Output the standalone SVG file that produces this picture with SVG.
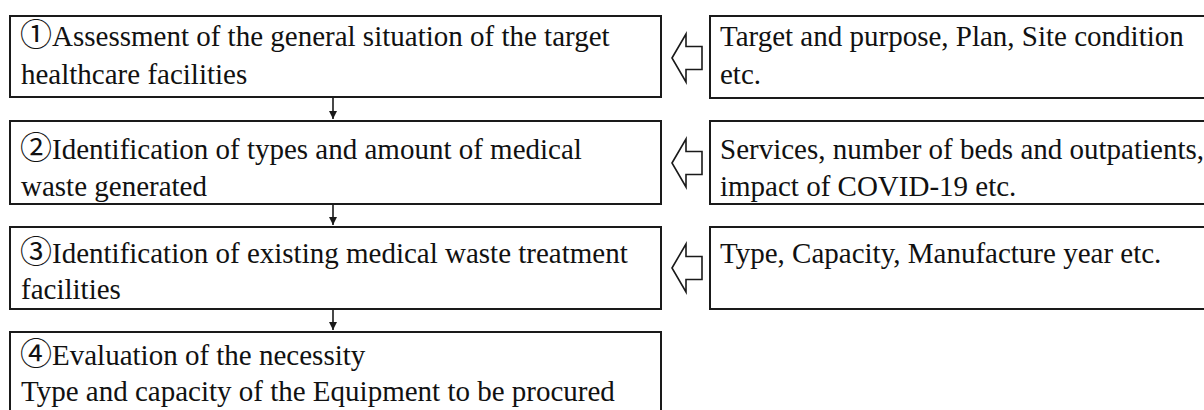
<svg xmlns="http://www.w3.org/2000/svg" width="1204" height="410" viewBox="0 0 1204 410">
  <style>
    .box { fill: #ffffff; stroke: #1a1a1a; stroke-width: 2; }
    .lbl { font-family: "Liberation Serif", "Noto Sans CJK JP", serif; font-size: 29px; fill: #111111; }
    .num { font-size: 32px; }
    .flow { stroke: #1a1a1a; stroke-width: 1.6; fill: none; }
    .hollow { fill: #ffffff; stroke: #1a1a1a; stroke-width: 1.6; stroke-linejoin: miter; }
  </style>
  <defs>
    <marker id="tri" viewBox="0 0 10 10" refX="10" refY="5" markerWidth="5" markerHeight="5" orient="auto" markerUnits="strokeWidth">
      <path d="M0,0 L10,5 L0,10 Z" fill="#1a1a1a"/>
    </marker>
    <path id="inArrow" d="M0,0 L14,-24 L14,-11.5 L30,-11.5 L30,11.5 L14,11.5 L14,24 Z"/>
  </defs>
  <rect width="1204" height="410" fill="#ffffff"/>

  <!-- step boxes -->
  <g id="step1">
    <rect class="box" x="10" y="16" width="651" height="81"/>
    <text class="lbl" x="20" y="46"><tspan class="num">①</tspan>Assessment of the general situation of the target</text>
    <text class="lbl" x="21" y="84">healthcare facilities</text>
  </g>
  <g id="step2">
    <rect class="box" x="10" y="121" width="651" height="83"/>
    <text class="lbl" x="20" y="159"><tspan class="num">②</tspan>Identification of types and amount of medical</text>
    <text class="lbl" x="21" y="196">waste generated</text>
  </g>
  <g id="step3">
    <rect class="box" x="10" y="227" width="651" height="82"/>
    <text class="lbl" x="20" y="263"><tspan class="num">③</tspan>Identification of existing medical waste treatment</text>
    <text class="lbl" x="21" y="299">facilities</text>
  </g>
  <g id="step4">
    <rect class="box" x="10" y="332" width="651" height="90"/>
    <text class="lbl" x="20" y="365"><tspan class="num">④</tspan>Evaluation of the necessity</text>
    <text class="lbl" x="21" y="401">Type and capacity of the Equipment to be procured</text>
  </g>

  <!-- input boxes -->
  <g id="input1">
    <rect class="box" x="710" y="16" width="500" height="82"/>
    <text class="lbl" x="720" y="46">Target and purpose, Plan, Site condition</text>
    <text class="lbl" x="720" y="84">etc.</text>
  </g>
  <g id="input2">
    <rect class="box" x="710" y="121" width="500" height="83"/>
    <text class="lbl" x="720" y="159">Services, number of beds and outpatients,</text>
    <text class="lbl" x="720" y="196">impact of COVID-19 etc.</text>
  </g>
  <g id="input3">
    <rect class="box" x="710" y="227" width="500" height="82"/>
    <text class="lbl" x="720" y="263">Type, Capacity, Manufacture year etc.</text>
  </g>

  <!-- connectors -->
  <g id="connectors">
    <line class="flow" x1="333" y1="97" x2="333" y2="119" marker-end="url(#tri)"/>
    <line class="flow" x1="333" y1="204" x2="333" y2="225" marker-end="url(#tri)"/>
    <line class="flow" x1="333" y1="309" x2="333" y2="330" marker-end="url(#tri)"/>
    <use href="#inArrow" class="hollow" x="672" y="58"/>
    <use href="#inArrow" class="hollow" x="672" y="163"/>
    <use href="#inArrow" class="hollow" x="672" y="268"/>
  </g>
</svg>
